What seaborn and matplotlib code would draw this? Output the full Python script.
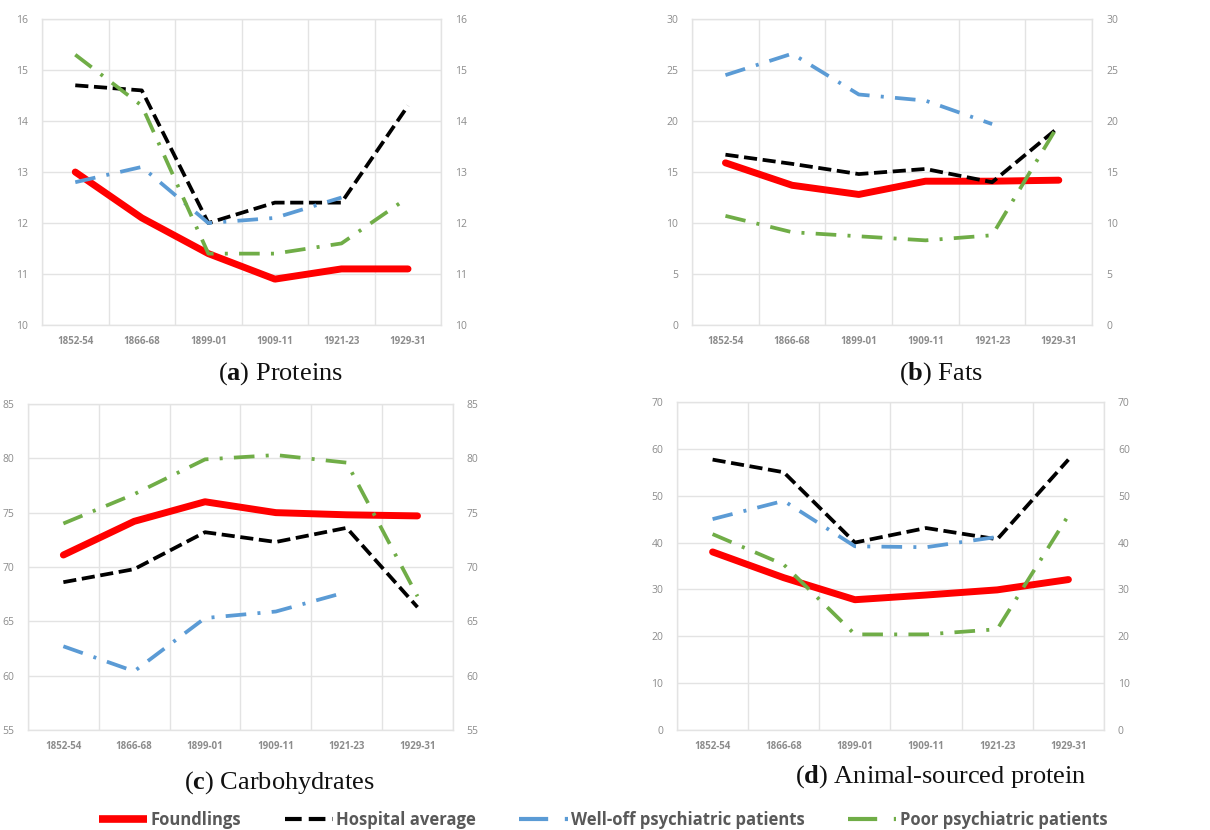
import numpy as np
import pandas as pd
import matplotlib
matplotlib.use("Agg")
import matplotlib.pyplot as plt
from matplotlib.lines import Line2D
import seaborn as sns

sns.set_theme(style="white")
plt.rcParams['font.family'] = ['Open Sans', 'DejaVu Sans']
plt.rcParams['mathtext.fontset'] = 'custom'
plt.rcParams['mathtext.rm'] = 'Liberation Serif'
plt.rcParams['mathtext.bf'] = 'Liberation Serif:bold'

periods = ["1852-54", "1866-68", "1899-01", "1909-11", "1921-23", "1929-31"]
series_names = ["Foundlings", "Hospital average", "Well-off psychiatric patients", "Poor psychiatric patients"]

# (a) Proteins
proteins_foundlings = [13.0, 12.1, 11.4, 10.9, 11.1, 11.1]
proteins_hospital = [14.7, 14.6, 12.0, 12.4, 12.4, 14.3]
proteins_welloff = [12.8, 13.1, 12.0, 12.1, 12.5, np.nan]
proteins_poor = [15.3, 14.3, 11.4, 11.4, 11.6, 12.5]

# (b) Fats
fats_foundlings = [15.9, 13.7, 12.8, 14.1, 14.1, 14.2]
fats_hospital = [16.7, 15.8, 14.8, 15.3, 14.0, 19.4]
fats_welloff = [24.5, 26.6, 22.6, 22.0, 19.7, np.nan]
fats_poor = [10.7, 9.1, 8.7, 8.3, 8.8, 19.7]

# (c) Carbohydrates
carbs_foundlings = [71.1, 74.2, 76.0, 75.0, 74.8, 74.7]
carbs_hospital = [68.6, 69.8, 73.2, 72.3, 73.6, 66.3]
carbs_welloff = [62.7, 60.4, 65.3, 65.9, 67.7, np.nan]
carbs_poor = [74.0, 76.7, 79.9, 80.3, 79.6, 67.3]

# (d) Animal-sourced protein
animal_foundlings = [38.0, 32.5, 27.8, 28.8, 29.9, 32.1]
animal_hospital = [57.7, 55.0, 40.0, 43.1, 40.7, 57.7]
animal_welloff = [45.0, 48.9, 39.2, 39.0, 41.2, np.nan]
animal_poor = [41.8, 35.3, 20.4, 20.4, 21.5, 45.8]

panels = [
    dict(letter="a", title="Proteins", data=[proteins_foundlings, proteins_hospital, proteins_welloff, proteins_poor],
         ylim=(10, 16), yticks=np.arange(10, 17, 1), rect=[0.0347, 0.6084, 0.330, 0.3687],
         cap=(0.2314, 0.5422)),
    dict(letter="b", title="Fats", data=[fats_foundlings, fats_hospital, fats_welloff, fats_poor],
         ylim=(0, 30), yticks=np.arange(0, 31, 5), rect=[0.572, 0.6084, 0.3306, 0.3687],
         cap=(0.7777, 0.5422)),
    dict(letter="c", title="Carbohydrates", data=[carbs_foundlings, carbs_hospital, carbs_welloff, carbs_poor],
         ylim=(55, 85), yticks=np.arange(55, 86, 5), rect=[0.0231, 0.1205, 0.3512, 0.3928],
         cap=(0.2306, 0.0494)),
    dict(letter="d", title="Animal-sourced protein", data=[animal_foundlings, animal_hospital, animal_welloff, animal_poor],
         ylim=(0, 70), yticks=np.arange(0, 71, 10), rect=[0.5595, 0.1205, 0.3529, 0.3952],
         cap=(0.7777, 0.0566)),
]

styles = [
    dict(color="#FF0000", lw=5.0, dashes=None),
    dict(color="#000000", lw=2.7, dashes=(3.5, 1.5)),
    dict(color="#5B9BD5", lw=2.7, dashes=(5.5, 3.0, 0.8, 3.0)),
    dict(color="#70AD47", lw=2.7, dashes=(5.5, 3.0, 0.8, 3.0)),
]

fig = plt.figure(figsize=(12.1, 8.3), dpi=100)
xpos = np.arange(len(periods))
tick_color = "#8C8C8C"
grid_color = "#E3E3E3"

for p in panels:
    ax = fig.add_axes(p["rect"])
    for name, vals, st in zip(series_names, p["data"], styles):
        df = pd.DataFrame({"x": xpos, "y": vals}).dropna()
        sns.lineplot(data=df, x="x", y="y", ax=ax, color=st["color"], linewidth=st["lw"],
                     solid_capstyle="round", dash_capstyle="butt")
        ln = ax.lines[-1]
        if st["dashes"] is not None:
            ln.set_dashes(st["dashes"])
    ax.set_xlim(-0.5, len(periods) - 0.5)
    ax.set_ylim(*p["ylim"])
    ax.set_yticks(p["yticks"])
    ax.set_xticks(xpos)
    ax.set_xticklabels(periods)
    ax.set_xticks(np.arange(-0.5, len(periods), 1.0), minor=True)
    ax.grid(False)
    ax.grid(True, which="minor", axis="x", color=grid_color, linewidth=1.0)
    ax.grid(True, which="major", axis="y", color=grid_color, linewidth=1.0)
    ax.set_axisbelow(True)
    ax.set_xlabel("")
    ax.set_ylabel("")
    for s in ax.spines.values():
        s.set_color(grid_color)
        s.set_linewidth(1.0)
    ax.tick_params(axis="x", which="both", length=0, labelsize=7, labelcolor=tick_color, pad=8)
    ax.tick_params(axis="y", length=0, labelsize=7.5, labelcolor=tick_color, labelleft=True, labelright=True, pad=10)
    for lab in ax.get_xticklabels():
        lab.set_fontweight("bold")
    fig.text(p["cap"][0], p["cap"][1], "($\\mathbf{" + p["letter"] + "}$) " + p["title"],
             ha="center", va="baseline", fontsize=19, family="Liberation Serif", color="#111111")

handles = [
    Line2D([0], [0], color="#FF0000", linewidth=5.5, solid_capstyle="butt"),
    Line2D([0], [0], color="#000000", linewidth=3.0, dashes=(4.0, 1.7)),
    Line2D([0], [0], color="#5B9BD5", linewidth=3.0, dashes=(7.0, 4.0, 1.0, 4.0)),
    Line2D([0], [0], color="#70AD47", linewidth=3.0, dashes=(7.0, 4.0, 1.0, 4.0)),
]
leg = fig.legend(handles, series_names, loc="center", bbox_to_anchor=(0.4985, 0.012), ncol=4,
                 frameon=False, handlelength=2.9, handletextpad=0.2, columnspacing=2.6,
                 prop=dict(family="Open Sans", weight="bold", size=12))
for t in leg.get_texts():
    t.set_color("#595959")

fig.savefig("out.png", dpi=100)
